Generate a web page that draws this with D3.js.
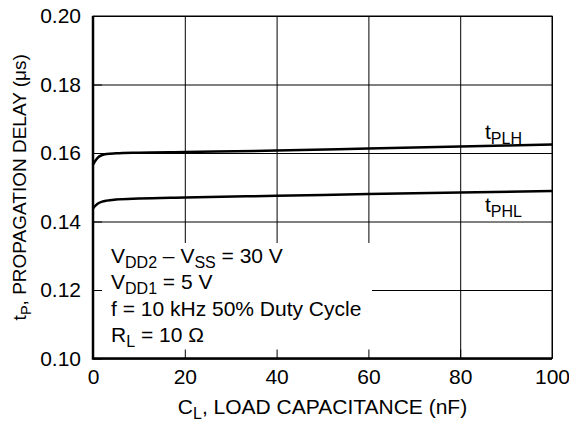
<!DOCTYPE html>
<html>
<head>
<meta charset="utf-8">
<script src="https://cdn.jsdelivr.net/npm/d3@7"></script>
<style>
  body { margin: 0; background: #fff; }
  svg { font-family: "Liberation Sans", Arial, sans-serif; }
</style>
</head>
<body>
<div id="chart"></div>
<script>
// Valores
const loadCap = [0, 0.3, 1, 2, 3, 5, 10, 20, 40, 60, 80, 100];
const tPLH = [0.1566, 0.1573, 0.1586, 0.1594, 0.1597, 0.1599, 0.1601, 0.1603, 0.1607, 0.1613, 0.1619, 0.1625];
const tPHL = [0.1438, 0.1443, 0.1452, 0.1458, 0.1461, 0.1464, 0.1467, 0.1470, 0.1475, 0.1480, 0.1485, 0.1489];
const xTicks = [0, 20, 40, 60, 80, 100];
const yTicks = [0.10, 0.12, 0.14, 0.16, 0.18, 0.20];

const width = 569, height = 423;
const margin = { top: 16, right: 17, bottom: 64.5, left: 93 };
const fontSize = 21, subSize = 16;

const svg = d3.select("#chart").append("svg")
    .attr("width", width)
    .attr("height", height);

const x = d3.scaleLinear().domain([0, 100]).range([margin.left, width - margin.right]);
const y = d3.scaleLinear().domain([0.10, 0.20]).range([height - margin.bottom, margin.top]);

const plotW = x(100) - x(0);
const plotH = y(0.10) - y(0.20);

// grilla
svg.append("g")
    .attr("transform", `translate(${x(0)},0)`)
    .call(d3.axisLeft(y).tickValues(yTicks).tickSize(-plotW).tickFormat(""))
    .call(g => g.select(".domain").remove())
    .selectAll("line").attr("stroke", "#000").attr("stroke-width", 1);

svg.append("g")
    .attr("transform", `translate(0,${y(0.10)})`)
    .call(d3.axisBottom(x).tickValues(xTicks).tickSize(-plotH).tickFormat(""))
    .call(g => g.select(".domain").remove())
    .selectAll("line").attr("stroke", "#000").attr("stroke-width", 1);

// curvas
const line = d3.line()
    .x((d, i) => x(loadCap[i]))
    .y(d => y(d))
    .curve(d3.curveMonotoneX);

[tPLH, tPHL].forEach(s => {
    svg.append("path")
        .attr("d", line(s))
        .attr("fill", "none")
        .attr("stroke", "#000")
        .attr("stroke-width", 2.5);
});

// caja de condiciones
svg.append("rect")
    .attr("x", x(0) + 1)
    .attr("y", 243)
    .attr("width", 278)
    .attr("height", y(0.10) - 243)
    .attr("fill", "#fff");

// ejes con marcas hacia dentro
svg.append("g")
    .attr("transform", `translate(${x(0)},0)`)
    .call(d3.axisLeft(y).tickValues(yTicks).tickSizeInner(-9).tickSizeOuter(0).tickPadding(12)
        .tickFormat(d3.format(".2f")))
    .call(g => g.select(".domain").remove())
    .call(g => g.selectAll("line").attr("stroke", "#000"))
    .call(g => g.selectAll("text").attr("font-size", fontSize).attr("fill", "#000")
        .attr("font-family", "Liberation Sans, Arial, sans-serif"));

svg.append("g")
    .attr("transform", `translate(0,${y(0.10)})`)
    .call(d3.axisBottom(x).tickValues(xTicks).tickSizeInner(-9).tickSizeOuter(0).tickPadding(10.5))
    .call(g => g.select(".domain").remove())
    .call(g => g.selectAll("line").attr("stroke", "#000"))
    .call(g => g.selectAll("text").attr("font-size", fontSize).attr("fill", "#000")
        .attr("font-family", "Liberation Sans, Arial, sans-serif"));

// marco
svg.append("rect")
    .attr("x", x(0)).attr("y", y(0.20))
    .attr("width", plotW).attr("height", plotH)
    .attr("fill", "none").attr("stroke", "#000").attr("stroke-width", 1);
svg.append("path")
    .attr("d", `M${x(0)},${y(0.20)}V${y(0.10)}H${x(100)}`)
    .attr("fill", "none").attr("stroke", "#000").attr("stroke-width", 2.5);

// texto con subíndices
function subText(xPos, yPos, parts) {
    const t = svg.append("text")
        .attr("x", xPos).attr("y", yPos)
        .attr("font-size", fontSize)
        .attr("fill", "#000");
    parts.forEach(p => {
        if (p.sub) {
            t.append("tspan").attr("font-size", subSize).attr("dy", 5).text(p.sub);
        } else {
            t.append("tspan").attr("dy", p.after ? -5 : 0).text(p.t);
        }
    });
    return t;
}

subText(111, 263, [{ t: "V" }, { sub: "DD2" }, { t: " \u2013 V", after: true }, { sub: "SS" }, { t: " = 30 V", after: true }]);
subText(111, 289, [{ t: "V" }, { sub: "DD1" }, { t: " = 5 V", after: true }]);
subText(111, 316, [{ t: "f = 10 kHz 50% Duty Cycle" }]);
subText(111, 342, [{ t: "R" }, { sub: "L" }, { t: " = 10 \u03A9", after: true }]);

subText(485, 139, [{ t: "t" }, { sub: "PLH" }]);
subText(485, 212, [{ t: "t" }, { sub: "PHL" }]);

// título eje x
const xt = svg.append("text")
    .attr("x", (x(0) + x(100)) / 2).attr("y", 414)
    .attr("text-anchor", "middle").attr("font-size", fontSize).attr("fill", "#000");
xt.append("tspan").text("C");
xt.append("tspan").attr("font-size", subSize).attr("dy", 5).text("L");
xt.append("tspan").attr("dy", -5).text(", LOAD CAPACITANCE (nF)");

// título eje y
const yt = svg.append("text")
    .attr("transform", `translate(26,${(y(0.10) + y(0.20)) / 2}) rotate(-90)`)
    .attr("text-anchor", "middle").attr("font-size", 19).attr("fill", "#000");
yt.append("tspan").text("t");
yt.append("tspan").attr("font-size", 14.5).attr("dy", 4.5).text("P");
yt.append("tspan").attr("dy", -4.5).text(", PROPAGATION DELAY (\u03BCs)");
</script>
</body>
</html>
